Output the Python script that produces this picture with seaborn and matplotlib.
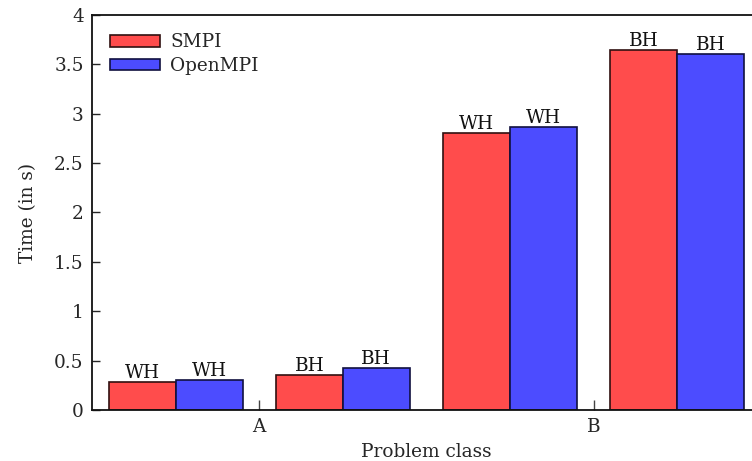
import matplotlib
matplotlib.use("Agg")
import matplotlib.pyplot as plt
import seaborn as sns
import pandas as pd

# Benchmark timings (seconds) per problem class and hierarchy variant
classes = ["A", "A", "B", "B"]
variants = ["WH", "BH", "WH", "BH"]
smpi_times = [0.28, 0.35, 2.81, 3.645]
openmpi_times = [0.305, 0.425, 2.865, 3.60]
implementations = ["SMPI", "OpenMPI"]
class_ticks = ["A", "B"]
y_ticks = [0, 0.5, 1, 1.5, 2, 2.5, 3, 3.5, 4]

cells = [f"{c}-{v}" for c, v in zip(classes, variants)]
rows = []
for cell, v, s, o in zip(cells, variants, smpi_times, openmpi_times):
    rows.append({"cell": cell, "variant": v, "impl": "SMPI", "time": s})
    rows.append({"cell": cell, "variant": v, "impl": "OpenMPI", "time": o})
df = pd.DataFrame(rows)

sns.set_theme(style="ticks")
plt.rcParams["font.family"] = ["DejaVu Serif"]
fs = 13.3
plt.rcParams["font.size"] = fs

fig = plt.figure(figsize=(7.52, 4.61), dpi=100)
ax = fig.add_axes([0.1223, 0.1106, 1.012 - 0.1223, 0.9675 - 0.1106])

palette = {"SMPI": "#ff4c4c", "OpenMPI": "#4c4cff"}
sns.barplot(data=df, x="cell", y="time", hue="impl", order=cells,
            hue_order=implementations, palette=palette, width=0.8,
            saturation=1, errorbar=None, ax=ax, linewidth=1.2)

edges = {"SMPI": "#301010", "OpenMPI": "#101040"}
for container, impl in zip(ax.containers, implementations):
    for patch in container:
        patch.set_edgecolor(edges[impl])
    ax.bar_label(container, labels=variants, padding=0, fontsize=fs,
                 color="#111111")

ax.set_xlim(-0.5, 3.5)
ax.set_ylim(0, 4)
ax.set_xticks([0.5, 2.5])
ax.set_xticklabels(class_ticks)
ax.set_yticks(y_ticks)
ax.set_yticklabels([f"{t:g}" for t in y_ticks])
ax.tick_params(axis="x", direction="in", length=7, width=1, top=False,
               labelsize=fs, pad=6, color="#444444")
ax.tick_params(axis="y", direction="in", length=6, width=1, right=True,
               labelsize=fs, pad=6)
for sp in ax.spines.values():
    sp.set_visible(True)
    sp.set_linewidth(1.3)
    sp.set_color("#111111")

ax.set_xlabel("Problem class", fontsize=fs, labelpad=5)
ax.set_ylabel("Time (in s)", fontsize=fs, labelpad=12)

leg = ax.legend(loc="upper left", frameon=False, fontsize=fs,
                handlelength=2.7, handleheight=0.6, borderaxespad=0.6,
                labelspacing=0.3, handletextpad=0.55, borderpad=0.4)
for h, impl in zip(leg.legend_handles, implementations):
    h.set_edgecolor(edges[impl])
    h.set_linewidth(1.2)

fig.savefig("out.png", dpi=100)
